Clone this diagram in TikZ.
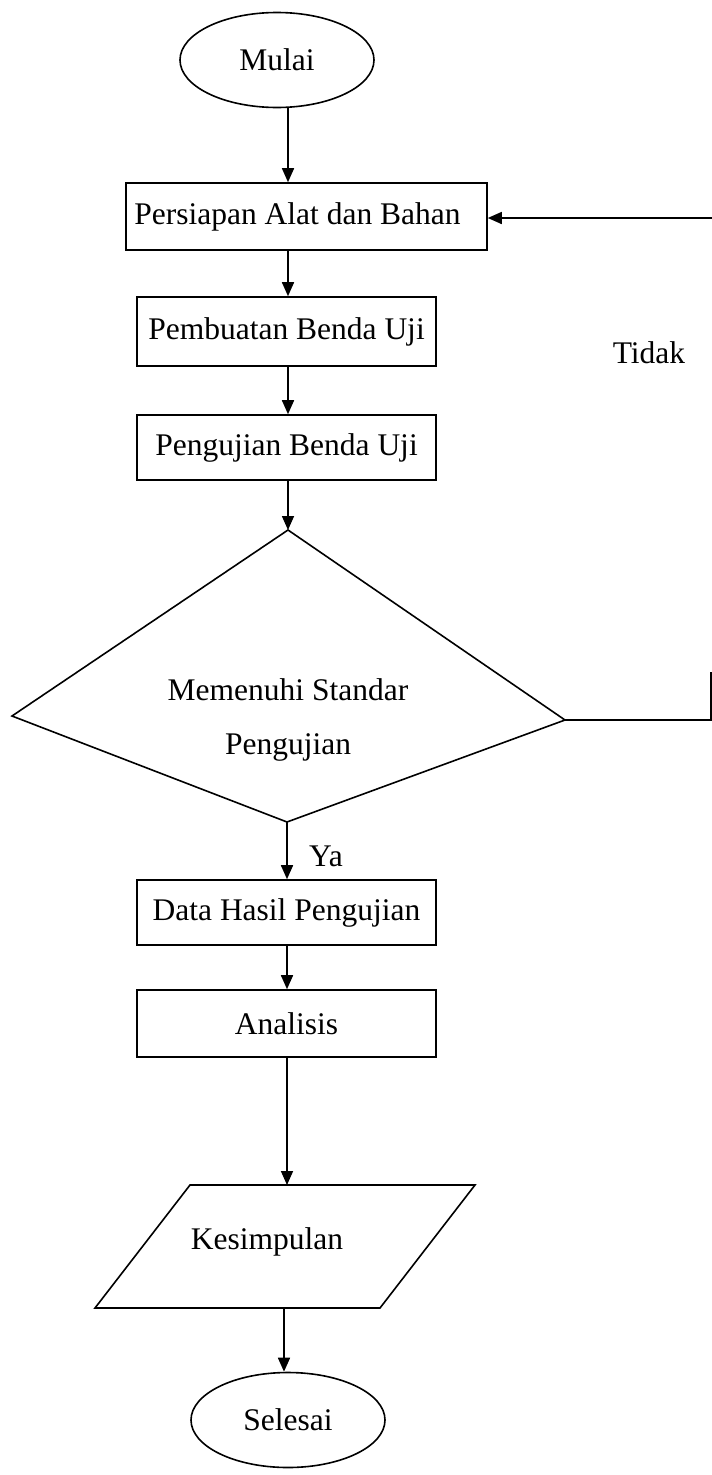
\documentclass[tikz,border=0pt]{standalone}
\usepackage{fontspec}
\setmainfont{Liberation Serif}
\usetikzlibrary{shapes.geometric,arrows.meta}
\begin{document}
\begin{tikzpicture}[x=1pt,y=-1pt,
  every node/.style={font=\fontsize{31.5}{44}\selectfont},
  term/.style={draw,ellipse,line width=1.6pt,minimum width=194pt,minimum height=95pt,inner sep=0pt},
  proc/.style={draw,rectangle,line width=1.6pt,minimum width=299pt,minimum height=67pt,inner sep=0pt},
  flow/.style={line width=1.6pt,-{Triangle[length=14pt,width=12pt]}},
  plain/.style={line width=1.6pt,line join=miter}]
\useasboundingbox (0,0) rectangle (712,1475);
\node[term] (mulai) at (277,60) {Mulai};
\node[proc,minimum width=361pt] (persiapan) at (306.5,216.5) {\hspace*{-18pt}Persiapan Alat dan Bahan};
\node[proc,minimum height=69pt] (pembuatan) at (286.5,331.5) {Pembuatan Benda Uji};
\node[proc,minimum height=65pt] (pengujian) at (286.5,447.5) {Pengujian Benda Uji};
% decision (kite-shaped as in the reference)
\coordinate (ct) at (288,530);
\coordinate (cl) at (12,716);
\coordinate (cb) at (287,822);
\coordinate (cr) at (565,720);
\draw[plain] (ct) -- (cr) -- (cb) -- (cl) -- cycle;
\node[align=center,inner sep=0pt] (cek) at (288,720) {Memenuhi Standar\\[10pt]Pengujian};
\node[proc,minimum height=65pt] (data) at (286.5,912.5) {Data Hasil Pengujian};
\node[proc] (analisis) at (286.5,1023.5) {Analisis};
% input/output parallelogram
\coordinate (ktl) at (190,1185);
\coordinate (ktr) at (475,1185);
\coordinate (kbr) at (380,1308);
\coordinate (kbl) at (95,1308);
\draw[plain] (ktl) -- (ktr) -- (kbr) -- (kbl) -- cycle;
\node[inner sep=0pt] (kesimpulan) at (267,1242) {Kesimpulan};
\node[term] (selesai) at (288,1420) {Selesai};
\coordinate (r1) at (711,720);
\coordinate (r2) at (711,672);
\coordinate (r3) at (712,218);
\node[anchor=center] (tidak) at (649,353) {Tidak};
\node[anchor=center] (ya) at (326,856) {Ya};
\draw[flow] (mulai.south -| 288,0) -- (persiapan.north -| 288,0);
\draw[flow] (persiapan.south -| 288,0) -- (pembuatan.north -| 288,0);
\draw[flow] (pembuatan.south -| 288,0) -- (pengujian.north -| 288,0);
\draw[flow] (pengujian.south -| 288,0) -- (ct);
\draw[flow] (cb) -- (data.north -| cb);
\draw[flow] (data.south -| 287,0) -- (analisis.north -| 287,0);
\draw[flow] (analisis.south -| 287,0) -- (ktl -| 287,0);
\draw[flow] (kbl -| 284,0) -- (selesai.north -| 284,0);
\draw[plain] (cr) -- (r1) -- (r2);
\draw[flow] (r3) -- (persiapan.east |- r3);
\end{tikzpicture}
\end{document}
